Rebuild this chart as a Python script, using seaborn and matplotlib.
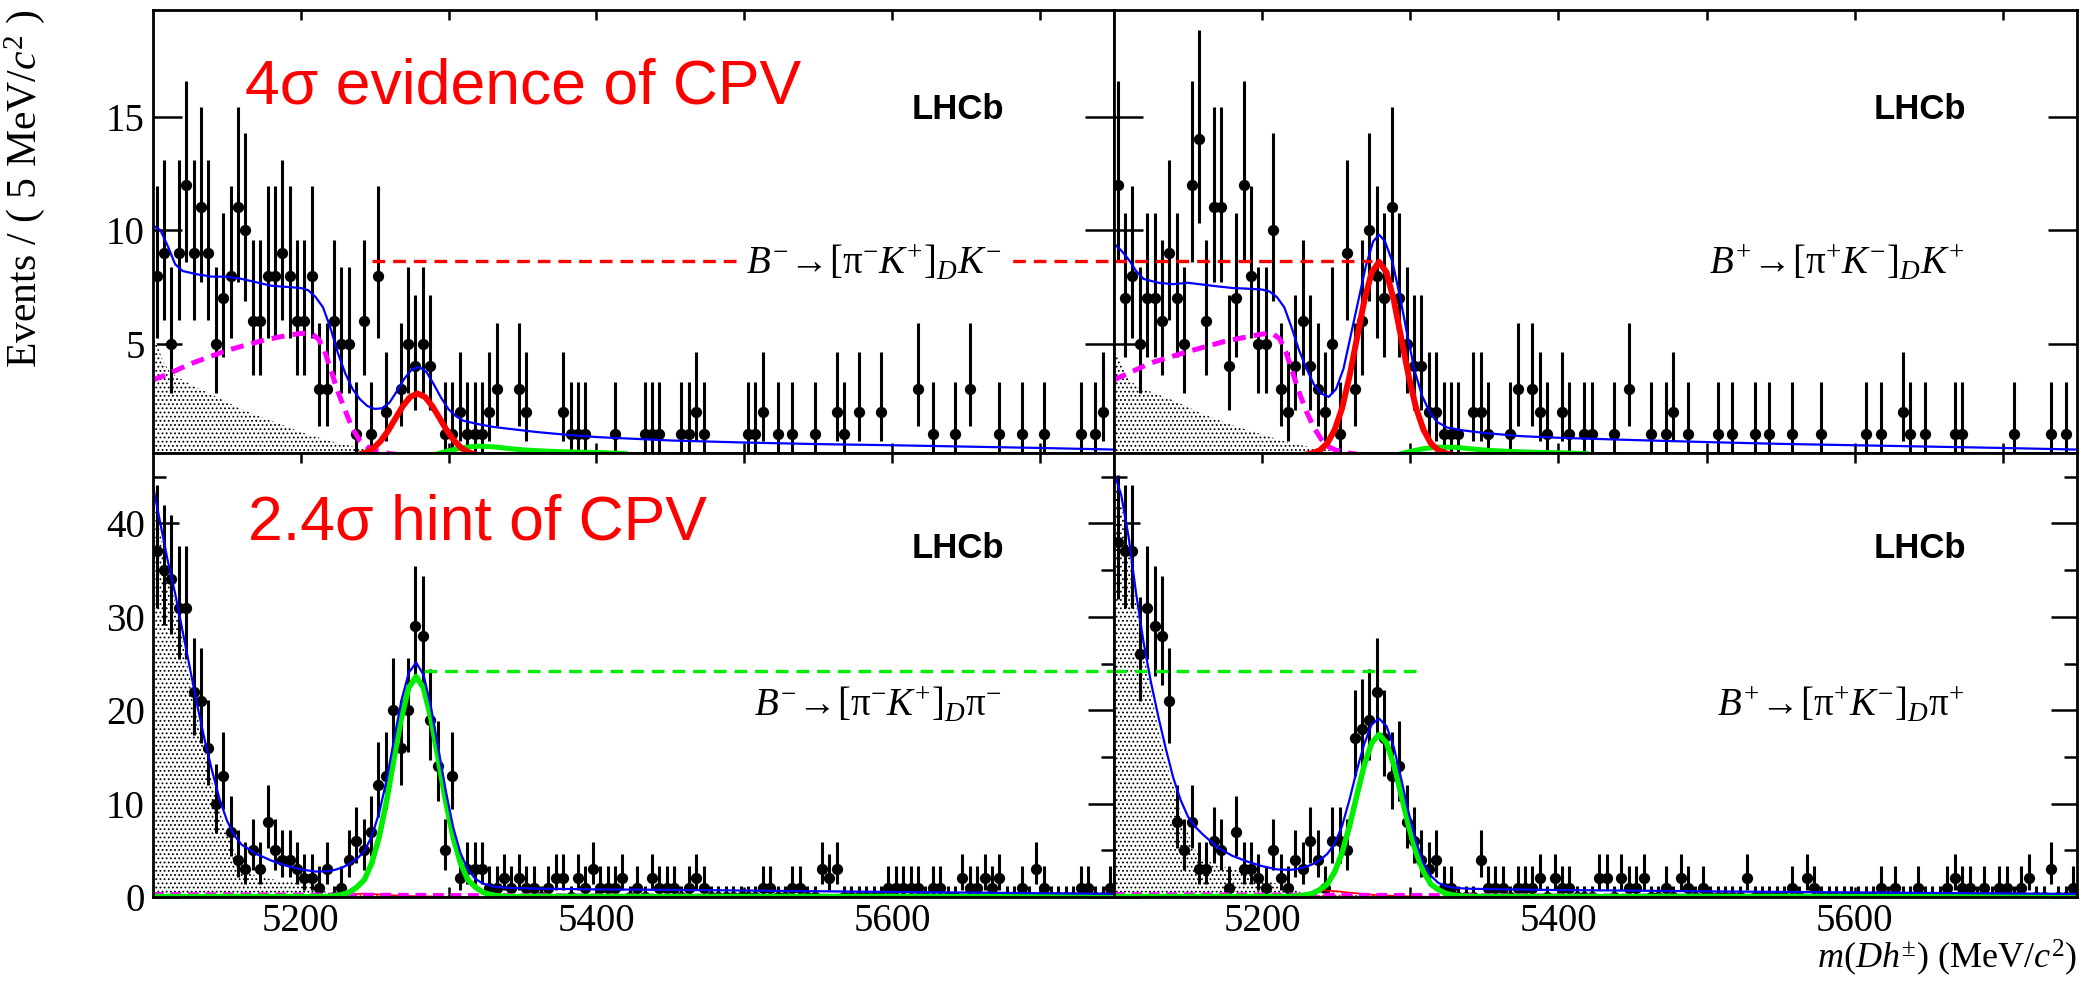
import math
import numpy as np
import matplotlib
matplotlib.use("Agg")
import matplotlib.pyplot as plt
import seaborn as sns

# ------------------------------------------------------------------ data
mass_lo, mass_hi, bin_width = 5100, 5750, 5
centres = np.arange(mass_lo + bin_width / 2, mass_hi, bin_width)

x_ticks = [5200, 5300, 5400, 5500, 5600, 5700]
x_tick_labels = ["5200", "", "5400", "", "5600", ""]
top_y_ticks = [5, 10, 15]
bot_y_ticks = [0, 10, 20, 30, 40]
bot_y_minor = [5, 15, 25, 35, 45]

# events per 5 MeV bin, B- -> [pi- K+]_D K-
counts_tl = [8, 9, 5, 9, 12, 9, 11, 9, 5, 7,
             8, 11, 10, 6, 6, 8, 8, 9, 8, 6,
             6, 8, 3, 3, 6, 5, 5, 1, 6, 1,
             8, 2, 0, 3, 5, 4, 5, 4, 0, 1,
             1, 2, 1, 1, 1, 2, 3, 0, 0, 3,
             2, 0, 0, 0, 0, 2, 1, 1, 1, 0,
             0, 0, 1, 0, 0, 0, 1, 1, 1, 0,
             0, 1, 1, 2, 1, 0, 0, 0, 0, 0,
             1, 1, 2, 0, 1, 0, 1, 0, 0, 1,
             0, 0, 2, 1, 0, 2, 0, 0, 2, 0,
             0, 0, 0, 3, 0, 1, 0, 0, 1, 0,
             3, 0, 0, 0, 1, 0, 0, 1, 0, 0,
             1, 0, 0, 0, 0, 1, 0, 1, 2, 0]
# B+ -> [pi+ K-]_D K+
counts_tr = [12, 7, 8, 5, 7, 7, 6, 9, 7, 5,
             12, 14, 6, 11, 11, 4, 7, 12, 8, 5,
             5, 10, 3, 2, 4, 6, 4, 3, 2, 5,
             1, 9, 3, 6, 10, 8, 7, 11, 7, 5,
             4, 4, 2, 2, 1, 1, 1, 0, 2, 2,
             1, 0, 0, 1, 3, 0, 3, 2, 1, 0,
             2, 1, 0, 1, 1, 0, 0, 1, 0, 3,
             0, 0, 1, 0, 1, 2, 0, 1, 0, 0,
             0, 1, 0, 1, 0, 0, 1, 0, 1, 0,
             0, 1, 0, 0, 0, 1, 0, 0, 0, 0,
             0, 1, 0, 1, 0, 0, 2, 1, 0, 1,
             0, 0, 0, 1, 1, 0, 0, 0, 0, 0,
             0, 1, 0, 0, 0, 0, 1, 0, 1, 0]
# B- -> [pi- K+]_D pi-
counts_bl = [37, 35, 34, 31, 31, 22, 21, 16, 10, 13,
             7, 4, 3, 5, 3, 8, 5, 4, 4, 3,
             2, 2, 1, 3, 0, 1, 4, 6, 5, 7,
             12, 13, 20, 16, 20, 29, 28, 19, 14, 5,
             13, 2, 3, 3, 3, 1, 1, 2, 1, 2,
             1, 1, 0, 1, 2, 2, 0, 2, 1, 3,
             1, 1, 1, 2, 0, 1, 0, 2, 1, 1,
             1, 0, 1, 2, 1, 0, 0, 0, 0, 0,
             0, 0, 1, 1, 0, 0, 1, 1, 0, 0,
             3, 2, 3, 0, 0, 0, 0, 0, 0, 1,
             1, 1, 1, 1, 0, 1, 1, 0, 0, 2,
             1, 1, 2, 1, 2, 0, 0, 1, 0, 3,
             1, 0, 0, 0, 0, 1, 1, 0, 0, 1]
# B+ -> [pi+ K-]_D pi+
counts_br = [38, 37, 37, 26, 31, 29, 28, 21, 8, 5,
             8, 3, 3, 6, 5, 1, 7, 3, 3, 2,
             1, 5, 2, 1, 4, 3, 6, 4, 1, 6,
             6, 5, 17, 18, 19, 22, 17, 13, 14, 8,
             6, 4, 3, 4, 1, 1, 0, 0, 0, 4,
             1, 1, 1, 0, 1, 1, 1, 2, 0, 2,
             1, 1, 0, 0, 0, 2, 2, 0, 2, 1,
             1, 2, 0, 0, 1, 0, 2, 1, 0, 1,
             0, 0, 0, 0, 0, 2, 0, 0, 0, 0,
             0, 1, 0, 2, 1, 0, 0, 0, 0, 0,
             0, 0, 0, 1, 0, 1, 0, 0, 1, 0,
             0, 0, 1, 2, 1, 1, 0, 1, 0, 1,
             1, 0, 1, 2, 0, 0, 3, 0, 0, 1]

# ---- fit curves (top = DK, bottom = Dpi)
blue_tl_x = [5100, 5105, 5110, 5115, 5120, 5130, 5140, 5150, 5160, 5170, 5180, 5190,
             5200, 5205, 5210, 5215, 5220, 5225, 5230, 5235, 5240, 5245, 5250, 5255,
             5260, 5265, 5270, 5275, 5280, 5285, 5290, 5295, 5300, 5305, 5310, 5320,
             5330, 5340, 5360, 5380, 5400, 5450, 5500, 5550, 5600, 5650, 5700, 5750]
blue_tl_y = [10.2, 10.0, 9.3, 8.5, 8.2, 8.05, 7.95, 7.95, 7.85, 7.7, 7.55, 7.5,
             7.45, 7.35, 7.05, 6.6, 5.7, 4.6, 3.7, 3.0, 2.55, 2.25, 2.12, 2.15,
             2.4, 2.9, 3.45, 3.85, 3.97, 3.75, 3.2, 2.6, 2.1, 1.8, 1.6, 1.45,
             1.33, 1.25, 1.1, 0.98, 0.88, 0.73, 0.64, 0.57, 0.52, 0.46, 0.40, 0.33]
blue_tr_x = [5100, 5105, 5110, 5115, 5120, 5130, 5140, 5150, 5160, 5170, 5180, 5190,
             5200, 5205, 5210, 5215, 5220, 5225, 5230, 5235, 5240, 5245, 5250, 5255,
             5260, 5265, 5270, 5275, 5279, 5283, 5288, 5293, 5298, 5303, 5308, 5313,
             5318, 5325, 5335, 5350, 5375, 5400, 5450, 5500, 5550, 5600, 5650, 5700, 5750]
blue_tr_y = [9.4, 9.1, 8.7, 8.2, 7.85, 7.68, 7.62, 7.68, 7.6, 7.52, 7.45, 7.42,
             7.38, 7.3, 7.05, 6.6, 5.7, 4.7, 3.9, 3.2, 2.8, 2.65, 3.0, 3.9,
             5.4, 6.9, 8.4, 9.5, 9.8, 9.5, 8.6, 7.1, 5.4, 3.8, 2.7, 2.0,
             1.55, 1.3, 1.18, 1.06, 0.92, 0.85, 0.75, 0.66, 0.58, 0.52, 0.46, 0.40, 0.33]

sig_top_x = [5224, 5229, 5234, 5239, 5244, 5249, 5254, 5259, 5264, 5269, 5274, 5279,
             5284, 5289, 5294, 5299, 5304, 5309, 5314, 5319, 5324, 5329, 5334]
sig_tl_y = [0.02, 0.03, 0.06, 0.1, 0.2, 0.38, 0.7, 1.15, 1.7, 2.24, 2.65, 2.8,
            2.65, 2.24, 1.7, 1.15, 0.7, 0.38, 0.2, 0.1, 0.06, 0.03, 0.02]
sig_tr_y = [0.05, 0.1, 0.17, 0.3, 0.6, 1.2, 2.15, 3.55, 5.22, 6.89, 8.14, 8.6,
            8.14, 6.89, 5.22, 3.55, 2.15, 1.2, 0.6, 0.3, 0.17, 0.1, 0.05]

prc_top_x = [5100, 5110, 5125, 5150, 5175, 5190, 5200, 5207, 5212, 5216, 5220, 5225,
             5230, 5235, 5240, 5245, 5250, 5260, 5270]
prc_tl_y = [3.4, 3.65, 4.1, 4.7, 5.15, 5.35, 5.45, 5.45, 5.2, 4.7, 3.9, 2.9,
            2.05, 1.25, 0.72, 0.45, 0.3, 0.15, 0.08]
prc_tr_y = [3.4, 3.7, 4.15, 4.65, 5.1, 5.3, 5.42, 5.45, 5.2, 4.65, 3.85, 2.85,
            2.0, 1.3, 0.78, 0.45, 0.3, 0.16, 0.08]

shade_top_x = [5100, 5103, 5107, 5112, 5120, 5130, 5140, 5160, 5180, 5200, 5220,
               5240, 5260, 5280, 5300]
shade_tl_y = [5.5, 4.9, 4.2, 3.7, 3.4, 3.05, 2.75, 2.1, 1.6, 1.1, 0.7, 0.4, 0.2, 0.1, 0.05]
shade_tr_y = [5.0, 4.4, 3.8, 3.3, 3.0, 2.75, 2.5, 1.9, 1.4, 1.0, 0.6, 0.35, 0.2, 0.1, 0.05]

misid_top_x = [5285, 5290, 5300, 5310, 5320, 5330, 5340, 5350, 5360, 5370, 5380,
               5390, 5400, 5410, 5420]
misid_tl_y = [0.0, 0.1, 0.28, 0.42, 0.48, 0.45, 0.38, 0.32, 0.28, 0.25, 0.23, 0.21,
              0.2, 0.18, 0.16]
misid_tr_y = [0.0, 0.08, 0.25, 0.38, 0.44, 0.43, 0.37, 0.31, 0.27, 0.24, 0.22, 0.2,
              0.19, 0.17, 0.15]

blue_bl_x = [5100, 5105, 5110, 5115, 5120, 5125, 5130, 5135, 5140, 5145, 5150, 5155,
             5160, 5170, 5180, 5190, 5200, 5210, 5218, 5223, 5228, 5233, 5238, 5243,
             5248, 5253, 5258, 5263, 5268, 5273, 5278, 5283, 5288, 5293, 5298, 5303,
             5308, 5313, 5318, 5323, 5330, 5340, 5360, 5380, 5400, 5450, 5500, 5550,
             5600, 5650, 5700, 5750]
blue_bl_y = [44, 40, 36, 32.5, 28.5, 24.5, 20.5, 16.8, 13.5, 10.5, 8.2, 6.6,
             5.6, 4.6, 3.9, 3.35, 2.95, 2.72, 2.75, 2.9, 3.15, 3.55, 4.1, 4.9,
             6.5, 9.0, 12.5, 16.8, 21.0, 24.0, 25.1, 23.8, 20.4, 15.9, 11.4, 7.5,
             4.7, 2.95, 1.95, 1.45, 1.12, 0.97, 0.89, 0.85, 0.81, 0.76, 0.69, 0.61,
             0.54, 0.47, 0.40, 0.33]
blue_br_x = [5100, 5105, 5110, 5115, 5120, 5125, 5130, 5135, 5140, 5145, 5150, 5155,
             5160, 5170, 5180, 5190, 5200, 5210, 5219, 5224, 5229, 5234, 5239, 5244,
             5249, 5254, 5259, 5264, 5269, 5274, 5279, 5284, 5289, 5294, 5299, 5304,
             5309, 5314, 5319, 5324, 5330, 5340, 5360, 5380, 5400, 5450, 5500, 5550,
             5600, 5650, 5700, 5750]
blue_br_y = [45.5, 43, 38.5, 32.5, 27.3, 23, 19.3, 15.9, 12.8, 10.4, 8.6, 7.5,
             6.7, 5.3, 4.4, 3.8, 3.3, 2.95, 2.9, 3.0, 3.2, 3.5, 3.95, 4.6,
             5.7, 7.6, 10.4, 13.6, 16.4, 18.5, 19.1, 18.3, 16.0, 12.6, 9.0, 5.9,
             3.6, 2.25, 1.5, 1.15, 0.97, 0.88, 0.82, 0.78, 0.74, 0.68, 0.6, 0.54,
             0.49, 0.43, 0.38, 0.32]

sig_bl_x = [5100, 5218, 5223, 5228, 5233, 5238, 5243, 5248, 5253, 5258, 5263, 5268, 5273,
            5278, 5283, 5288, 5293, 5298, 5303, 5308, 5313, 5318, 5323, 5328, 5333,
            5338, 5750]
sig_bl_y = [0.05, 0.05, 0.12, 0.26, 0.52, 1.06, 1.84, 3.63, 6.42, 10.27, 14.77, 19.16,
            22.4, 23.6, 22.4, 19.16, 14.77, 10.27, 6.42, 3.63, 1.84, 1.06, 0.52, 0.26,
            0.12, 0.05, 0.05]
sig_br_x = [5100, 5219, 5224, 5229, 5234, 5239, 5244, 5249, 5254, 5259, 5264, 5269, 5274,
            5279, 5284, 5289, 5294, 5299, 5304, 5309, 5314, 5319, 5324, 5329, 5334,
            5339, 5750]
sig_br_y = [0.05, 0.05, 0.09, 0.19, 0.38, 0.78, 1.36, 2.68, 4.73, 7.57, 10.89, 14.13,
            16.51, 17.4, 16.51, 14.13, 10.89, 7.57, 4.73, 2.68, 1.36, 0.78, 0.38, 0.19,
            0.09, 0.05, 0.05]

shade_bl_x = [5100, 5105, 5110, 5115, 5120, 5125, 5130, 5135, 5140, 5145, 5150, 5155,
              5160, 5165, 5170, 5180, 5190, 5200, 5210, 5220, 5230, 5240]
shade_bl_y = [43, 39, 35, 31.5, 27.5, 23.5, 19.5, 15.8, 12.3, 9.3, 6.8, 4.8,
              3.5, 2.7, 2.2, 1.9, 1.7, 1.4, 0.9, 0.4, 0.1, 0.0]
shade_br_x = [5100, 5105, 5110, 5115, 5120, 5125, 5130, 5135, 5140, 5145, 5150, 5155,
              5160, 5170, 5180, 5190, 5200, 5210, 5220, 5230, 5240, 5250]
shade_br_y = [45, 42, 37.5, 31.5, 26.5, 22, 18, 14.5, 12.0, 9.0, 6.8, 5.0,
              4.1, 3.4, 3.0, 2.5, 1.9, 1.4, 0.8, 0.35, 0.1, 0.0]

kmis_bot_x = [5200, 5215, 5225, 5235, 5242, 5250, 5260, 5270, 5280, 5300, 5320]
kmis_bl_y = [0.0, 0.05, 0.15, 0.3, 0.35, 0.3, 0.2, 0.12, 0.07, 0.02, 0.0]
kmis_br_y = [0.0, 0.12, 0.3, 0.5, 0.7, 0.62, 0.45, 0.3, 0.18, 0.06, 0.0]

prc_bot_x = [5100, 5200, 5300, 5400, 5500, 5600, 5750]
prc_bot_y = [0.3, 0.25, 0.2, 0.15, 0.12, 0.1, 0.08]

# horizontal reference lines (peak heights)
red_ref_level = 8.63
red_ref_tl = [5248, 5750]
red_ref_tr = [5100, 5274]
green_ref_level = 24.2
green_ref_bl = [5283, 5750]
green_ref_br = [5100, 5308.5]

labels_decay = [r"$B^{-}\!\rightarrow\![\mathrm{\pi}^{-}K^{+}]_{D}K^{-}$",
                r"$B^{+}\!\rightarrow\![\mathrm{\pi}^{+}K^{-}]_{D}K^{+}$",
                r"$B^{-}\!\rightarrow\![\mathrm{\pi}^{-}K^{+}]_{D}\mathrm{\pi}^{-}$",
                r"$B^{+}\!\rightarrow\![\mathrm{\pi}^{+}K^{-}]_{D}\mathrm{\pi}^{+}$"]


# ------------------------------------------------------------------ helpers
def pois_cdf(n, mu):
    term = math.exp(-mu)
    s = term
    for k in range(1, n + 1):
        term *= mu / k
        s += term
    return s


def pois_err(n):
    a = 0.158655
    if n == 0:
        return 0.0, -math.log(1 - 0.682689)
    lo, hi = float(n), n + 10 * math.sqrt(n) + 10
    for _ in range(70):
        mid = 0.5 * (lo + hi)
        if pois_cdf(n, mid) > a:
            lo = mid
        else:
            hi = mid
    up = 0.5 * (lo + hi)
    lo2, hi2 = 0.0, float(n)
    for _ in range(70):
        mid = 0.5 * (lo2 + hi2)
        if 1 - pois_cdf(n - 1, mid) < a:
            lo2 = mid
        else:
            hi2 = mid
    low = 0.5 * (lo2 + hi2)
    return n - low, up - n


# ------------------------------------------------------------------ style
sns.set_theme(style="ticks")
plt.rcParams.update({
    "font.family": ["Liberation Serif", "DejaVu Serif"],
    "mathtext.fontset": "custom",
    "mathtext.rm": "Liberation Serif",
    "mathtext.it": "Liberation Serif:italic",
    "mathtext.bf": "Liberation Serif:bold",
    "axes.edgecolor": "black",
    "axes.linewidth": 2.0,
    "xtick.color": "black",
    "ytick.color": "black",
    "text.color": "black",
    "hatch.linewidth": 0.8,
    "hatch.color": "black",
    "axes.facecolor": "white",
    "figure.facecolor": "white",
})

fig = plt.figure(figsize=(20.84, 9.82), dpi=100)
L, M, R = 0.0734, 0.5345, 0.9966
B, D, T = 0.0866, 0.5392, 0.9898
ax_tl = fig.add_axes([L, D, M - L, T - D])
ax_tr = fig.add_axes([M, D, R - M, T - D])
ax_bl = fig.add_axes([L, B, M - L, D - B])
ax_br = fig.add_axes([M, B, R - M, D - B])

BLUE, RED, GREEN, MAG = "#0000ff", "#ff0000", "#00ee00", "#ff00ff"


def draw_data(ax, counts, show_zero):
    n = np.asarray(counts)
    mask = np.ones(len(n), bool) if show_zero else n > 0
    errs = [pois_err(int(k)) for k in n[mask]]
    lo = [e[0] for e in errs]
    hi = [e[1] for e in errs]
    ax.errorbar(centres[mask], n[mask], yerr=[lo, hi], fmt="none", ecolor="black",
                elinewidth=2.2, capsize=0, zorder=3)
    sns.scatterplot(x=centres[mask], y=n[mask], ax=ax, color="black", s=66,
                    linewidth=0, zorder=3.5, legend=False)


def curve(ax, x, y, color, lw, z, dashes=None):
    if dashes is None:
        sns.lineplot(x=x, y=y, ax=ax, color=color, linewidth=lw, zorder=z,
                     sort=False, estimator=None, legend=False)
    else:
        ax.plot(x, y, color=color, linewidth=lw, zorder=z, dashes=dashes,
                solid_capstyle="butt", dash_capstyle="butt")


def shade(ax, x, y, color):
    ax.fill_between(x, 0, y, facecolor="white", edgecolor=color, hatch="....",
                    linewidth=0, zorder=1)


# ---- top left
shade(ax_tl, shade_top_x, shade_tl_y, "black")
draw_data(ax_tl, counts_tl, False)
curve(ax_tl, prc_top_x, prc_tl_y, MAG, 3.6, 4, dashes=(2.6, 1.6))
curve(ax_tl, misid_top_x, misid_tl_y, GREEN, 3.6, 4)
curve(ax_tl, sig_top_x, sig_tl_y, RED, 4.3, 4.5)
curve(ax_tl, blue_tl_x, blue_tl_y, BLUE, 1.6, 5)
curve(ax_tl, red_ref_tl, [red_ref_level] * 2, RED, 2.4, 5, dashes=(3.8, 2.4))

# ---- top right
shade(ax_tr, shade_top_x, shade_tr_y, "black")
draw_data(ax_tr, counts_tr, False)
curve(ax_tr, prc_top_x, prc_tr_y, MAG, 3.6, 4, dashes=(2.6, 1.6))
curve(ax_tr, misid_top_x, misid_tr_y, GREEN, 3.6, 4)
curve(ax_tr, sig_top_x, sig_tr_y, RED, 4.3, 4.5)
curve(ax_tr, blue_tr_x, blue_tr_y, BLUE, 1.6, 5)
curve(ax_tr, red_ref_tr, [red_ref_level] * 2, RED, 2.4, 5, dashes=(3.8, 2.4))

# ---- bottom left
shade(ax_bl, shade_bl_x, shade_bl_y, "black")
shade(ax_bl, kmis_bot_x, kmis_bl_y, RED)
draw_data(ax_bl, counts_bl, True)
curve(ax_bl, kmis_bot_x, kmis_bl_y, RED, 1.2, 4)
curve(ax_bl, prc_bot_x, prc_bot_y, MAG, 3.0, 4, dashes=(2.6, 1.6))
curve(ax_bl, sig_bl_x, sig_bl_y, GREEN, 4.0, 4.5)
curve(ax_bl, blue_bl_x, blue_bl_y, BLUE, 1.6, 5)
curve(ax_bl, green_ref_bl, [green_ref_level] * 2, GREEN, 2.4, 5, dashes=(3.8, 2.4))

# ---- bottom right
shade(ax_br, shade_br_x, shade_br_y, "black")
shade(ax_br, kmis_bot_x, kmis_br_y, RED)
draw_data(ax_br, counts_br, True)
curve(ax_br, kmis_bot_x, kmis_br_y, RED, 1.2, 4)
curve(ax_br, prc_bot_x, prc_bot_y, MAG, 3.0, 4, dashes=(2.6, 1.6))
curve(ax_br, sig_br_x, sig_br_y, GREEN, 4.0, 4.5)
curve(ax_br, blue_br_x, blue_br_y, BLUE, 1.6, 5)
curve(ax_br, green_ref_br, [green_ref_level] * 2, GREEN, 2.4, 5, dashes=(3.8, 2.4))

# ---- axes cosmetics
for ax in (ax_tl, ax_tr, ax_bl, ax_br):
    ax.set_xlim(mass_lo, mass_hi)
    ax.set_xticks(x_ticks)
    ax.set_xlabel("")
    ax.set_ylabel("")
    ax.grid(False)
    for sp in ax.spines.values():
        sp.set_visible(True)
        sp.set_linewidth(2.0)
        sp.set_color("black")
        sp.set_zorder(10)
    ax.tick_params(axis="x", which="major", direction="in", length=7.5, width=1.8,
                   top=True, bottom=True, labelsize=28, pad=4)
    ax.tick_params(axis="y", which="both", direction="in", left=True, right=True,
                   width=1.8, labelsize=28, pad=6)

for ax in (ax_tl, ax_tr):
    ax.set_ylim(0.2, 19.7)
    ax.set_yticks(top_y_ticks)
    ax.tick_params(axis="y", which="major", length=21)
    ax.set_xticklabels([])
for ax in (ax_bl, ax_br):
    ax.set_ylim(0, 47.6)
    ax.set_yticks(bot_y_ticks)
    ax.set_yticks(bot_y_minor, minor=True)
    ax.tick_params(axis="y", which="major", length=19)
    ax.tick_params(axis="y", which="minor", length=9.5)
    ax.set_xticklabels(x_tick_labels)
for ax in (ax_tr, ax_br):
    ax.set_yticklabels([])

# ---- texts
sans = ["Liberation Sans", "DejaVu Sans"]
ax_tl.text(5162, 15.6, "4σ evidence of CPV", color=RED, fontsize=45, family=sans,
           ha="left", va="baseline", zorder=8)
ax_bl.text(5164, 38.3, "2.4σ hint of CPV", color=RED, fontsize=45, family=sans,
           ha="left", va="baseline", zorder=8)
for ax, yb in ((ax_tl, 14.9), (ax_tr, 14.9), (ax_bl, 36.3), (ax_br, 36.3)):
    ax.text(5613, yb, "LHCb", fontsize=25, weight="bold", family=sans,
            ha="left", va="baseline", zorder=8)

ax_tl.text(5674, 8.07, labels_decay[0], fontsize=28, ha="right", va="baseline", zorder=8,
           bbox=dict(facecolor="white", edgecolor="none", pad=5))
ax_tr.text(5674, 8.07, labels_decay[1], fontsize=28, ha="right", va="baseline", zorder=8)
ax_bl.text(5674, 19.3, labels_decay[2], fontsize=28, ha="right", va="baseline", zorder=8)
ax_br.text(5674, 19.3, labels_decay[3], fontsize=28, ha="right", va="baseline", zorder=8)

fig.text(0.012, 0.99, r"Events / ( 5 MeV/$c^{2}$ )", fontsize=30, rotation=90,
         ha="center", va="top")
fig.text(0.9966, 0.004, r"$m(Dh^{\pm})$ (MeV/$c^{2}$)", fontsize=26,
         ha="right", va="bottom")

fig.savefig("out.png", dpi=100)
